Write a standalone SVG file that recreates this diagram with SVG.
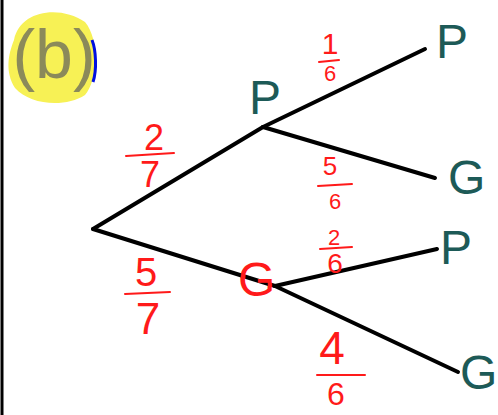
<svg xmlns="http://www.w3.org/2000/svg" width="498" height="415" viewBox="0 0 498 415">
<style>
.edge{stroke:#000;stroke-width:4;stroke-linecap:round;fill:none}
.node{fill:#1d5a57;font-family:"Liberation Sans",sans-serif;font-size:48px}
.frac{fill:#ff1a1a;font-family:"Liberation Sans",sans-serif;text-anchor:middle}
.bar{stroke:#ff1a1a;stroke-width:2;stroke-linecap:round}
</style>
<rect width="498" height="415" fill="#fff"/>
<line x1="2" y1="0" x2="2" y2="415" stroke="#000" stroke-width="3"/>
<g id="label-b">
<path d="M14,40 C20,10 60,5 85,22 C100,40 98,80 85,95 C65,108 30,105 15,88 C5,72 8,55 14,40 Z" fill="#f7f155"/>
<path d="M92,40 C96,50 97,70 93,82" stroke="#0010e0" stroke-width="3" fill="none"/>
<text x="54" y="78" text-anchor="middle" font-family="Liberation Sans,sans-serif" font-size="68" fill="#8b8a5a">(b)</text>
</g>
<g id="connectors">
<line class="edge" x1="93" y1="229" x2="263" y2="127"/>
<line class="edge" x1="93" y1="229" x2="275" y2="286"/>
<line class="edge" x1="263" y1="127" x2="425" y2="49"/>
<line class="edge" x1="263" y1="127" x2="435" y2="178"/>
<line class="edge" x1="275" y1="286" x2="437" y2="249"/>
<line class="edge" x1="275" y1="286" x2="458" y2="372"/>
</g>
<g id="node-P1"><text class="node" x="249" y="114">P</text></g>
<g id="node-G1"><text class="node" x="238" y="296" style="fill:#ff1a1a">G</text></g>
<g id="node-PP"><text class="node" x="436" y="58">P</text></g>
<g id="node-PG"><text class="node" x="448" y="194">G</text></g>
<g id="node-GP"><text class="node" x="440" y="264">P</text></g>
<g id="node-GG"><text class="node" x="460" y="389">G</text></g>
<g id="prob-27">
<text class="frac" x="154" y="150" font-size="36">2</text>
<line class="bar" x1="126" y1="156" x2="174" y2="153"/>
<text class="frac" x="150" y="187" font-size="36">7</text>
</g>
<g id="prob-57">
<text class="frac" x="146" y="286" font-size="40">5</text>
<line class="bar" x1="125" y1="294" x2="170" y2="292"/>
<text class="frac" x="148" y="334" font-size="44">7</text>
</g>
<g id="prob-16">
<text class="frac" x="330" y="54" font-size="30">1</text>
<line class="bar" x1="319" y1="62" x2="339" y2="60"/>
<text class="frac" x="330" y="81" font-size="22">6</text>
</g>
<g id="prob-56">
<text class="frac" x="330" y="175" font-size="26">5</text>
<line class="bar" x1="318" y1="186" x2="352" y2="184"/>
<text class="frac" x="335" y="209" font-size="22">6</text>
</g>
<g id="prob-26">
<text class="frac" x="334" y="245" font-size="22">2</text>
<line class="bar" x1="320" y1="249" x2="352" y2="247"/>
<text class="frac" x="335" y="273" font-size="28">6</text>
</g>
<g id="prob-46">
<text class="frac" x="332" y="364" font-size="46">4</text>
<line class="bar" x1="317" y1="375" x2="365" y2="375"/>
<text class="frac" x="336" y="405" font-size="32">6</text>
</g>
</svg>
